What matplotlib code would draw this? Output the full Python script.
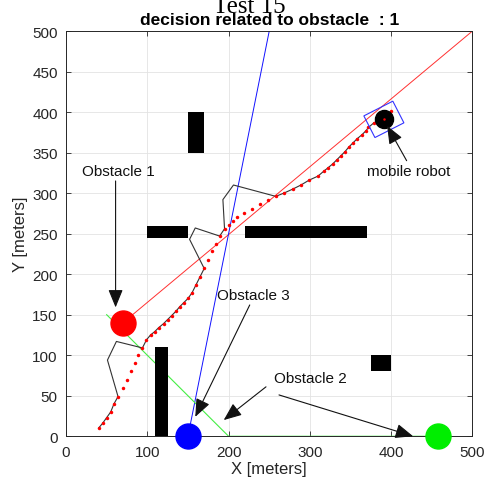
import numpy as np
import matplotlib
matplotlib.use("Agg")
import matplotlib.pyplot as plt
from matplotlib.patches import Rectangle, Polygon

plt.rcParams['font.family'] = ['Liberation Sans', 'DejaVu Sans']

# ---------------- data ----------------
# rectangular obstacles: x0, x1, y0, y1
obs_x0 = [150, 100, 220, 110, 375]
obs_x1 = [170, 150, 370, 125, 400]
obs_y0 = [350, 245, 245, 0, 80]
obs_y1 = [400, 260, 260, 110, 100]

# moving obstacles (position) and their trajectory lines
obs1_pos = (70, 140)
obs1_line_x = [70, 500]
obs1_line_y = [140, 500]
obs2_pos = (457, 0)
obs2_line_x = [457, 200, 50]
obs2_line_y = [0, 0, 150]
obs3_pos = (150, 0)
obs3_line_x = [150, 250]
obs3_line_y = [0, 500]

# planned path (red dots)
plan_x = [40, 45, 50, 55, 59, 64, 70, 75, 80, 85, 89, 94, 99, 104, 109, 114, 120, 125,
          130, 135, 140, 145, 150, 155, 160, 165, 170, 175, 179, 185, 189, 195, 200, 205,
          210, 219, 229, 239, 249, 258, 268, 279, 289, 299, 310, 317, 322, 328, 333, 338,
          343, 348, 353, 358, 364, 369, 372, 379, 391, 400]
plan_y = [10, 16, 23, 30, 40, 49, 59, 70, 80, 90, 100, 109, 119, 125, 129, 134, 139, 144,
          149, 154, 160, 165, 170, 177, 187, 197, 207, 218, 228, 237, 247, 256, 261, 266,
          270, 276, 281, 286, 291, 296, 300, 305, 310, 316, 321, 327, 331, 336, 341, 346,
          351, 357, 362, 367, 372, 377, 381, 387, 391, 401]

# actual robot trajectory (black line)
act_x = [40, 45, 50, 55, 59, 64, 51, 62, 94, 99, 104, 109, 114, 120, 125, 130, 135, 140,
         145, 150, 155, 160, 165, 170, 152, 159, 189, 195, 193, 206, 258, 268, 279, 289,
         299, 310, 317, 322, 328, 333, 338, 343, 348, 353, 358, 364, 369, 372, 379, 391]
act_y = [10, 16, 23, 30, 40, 49, 94, 117, 109, 119, 125, 129, 134, 139, 144, 149, 154, 160,
         165, 170, 177, 187, 197, 207, 243, 257, 247, 256, 292, 310, 296, 300, 305, 310,
         316, 321, 327, 331, 336, 341, 346, 351, 357, 362, 367, 372, 377, 381, 387, 391]

# robot pose: x, y, heading (deg), box length, box width
robot_x, robot_y, robot_heading = 391, 391, 27
robot_len, robot_wid = 40, 30

# annotations: label, text position, arrow tail, arrow head
ann_labels = ['Obstacle 1', 'Obstacle 3', 'Obstacle 2', 'mobile robot']
ann_text_xy = [(64, 327), (230, 174), (300, 72), (422, 327)]
ann_arrows = [[((61, 315), (61, 159))],
              [((226, 162), (159, 24))],
              [((246, 61), (194, 20)), ((262, 51), (427, 0))],
              [((419, 340), (395, 383))]]

x_ticks = list(range(0, 501, 100))
y_ticks = list(range(0, 501, 50))

# ---------------- figure ----------------
fig = plt.figure(figsize=(4.86, 4.85), dpi=100)
ax = fig.add_axes([0.1358, 0.0984, 0.8364, 0.8356])
ax.set_xlim(0, 500)
ax.set_ylim(0, 500)

ax.grid(True, color='#e3e3e3', lw=0.6)
ax.set_axisbelow(True)

for x0, x1, y0, y1 in zip(obs_x0, obs_x1, obs_y0, obs_y1):
    ax.add_patch(Rectangle((x0, y0), x1 - x0, y1 - y0, facecolor='k', edgecolor='k', lw=0, zorder=3))

ax.plot(obs1_line_x, obs1_line_y, color='#ff3030', lw=0.7, zorder=2)
ax.plot(obs3_line_x, obs3_line_y, color='#1010ff', lw=0.7, zorder=2)
ax.plot(obs2_line_x, obs2_line_y, color='#44ee44', lw=0.8, zorder=2)

ax.plot(act_x, act_y, color='#333333', lw=0.8, zorder=4)
ax.plot(plan_x, plan_y, 'o', color='#ff0000', ms=2.5, mew=0, zorder=5)

ax.plot(*obs1_pos, 'o', color='#ff0000', ms=18, zorder=6, clip_on=False)
ax.plot(*obs3_pos, 'o', color='#0000ff', ms=18, zorder=6, clip_on=False)
ax.plot(*obs2_pos, 'o', color='#00ee00', ms=18, zorder=6, clip_on=False)
ax.plot(robot_x, robot_y, 'o', color='k', ms=13, zorder=6)
ax.plot(robot_x, robot_y, 'o', color='#ff0000', ms=1.8, mew=0, zorder=7)

th = np.deg2rad(robot_heading)
u = np.array([np.cos(th), np.sin(th)])
v = np.array([-np.sin(th), np.cos(th)])
c = np.array([robot_x, robot_y])
corners = [c + sx * robot_len / 2 * u + sy * robot_wid / 2 * v
           for sx, sy in [(-1, 1), (1, 1), (1, -1), (-1, -1)]]
ax.add_patch(Polygon(corners, closed=True, fill=False, edgecolor='#3333ff', lw=0.8, zorder=6))

arrowprops = dict(arrowstyle='-|>,head_length=1.1,head_width=0.45', color='#111111',
                  lw=0.8, mutation_scale=10, shrinkA=0, shrinkB=0)
for lab, txy, arrs in zip(ann_labels, ann_text_xy, ann_arrows):
    ax.text(txy[0], txy[1], lab, fontsize=11, ha='center', va='center', color='#111111', zorder=8)
    for tail, head in arrs:
        ax.annotate('', xy=head, xytext=tail, arrowprops=arrowprops, zorder=8, annotation_clip=False)

ax.set_xticks(x_ticks)
ax.set_yticks(y_ticks)
ax.tick_params(direction='in', length=3.5, width=0.6, colors='#262626', labelsize=11,
               top=True, right=True, pad=6)
for s in ax.spines.values():
    s.set_color('#262626')
    s.set_linewidth(0.7)

ax.set_xlabel('X [meters]', fontsize=12, color='#262626', labelpad=2)
ax.set_ylabel('Y [meters]', fontsize=12, color='#262626', labelpad=3)
ax.set_title('decision related to obstacle  : 1', fontsize=12.5, fontweight='bold', pad=5)
fig.text(0.512, 0.974, 'Test 15', fontsize=18, family=['Liberation Serif', 'DejaVu Serif'],
         ha='center', va='baseline')

fig.savefig('out.png', dpi=100)
